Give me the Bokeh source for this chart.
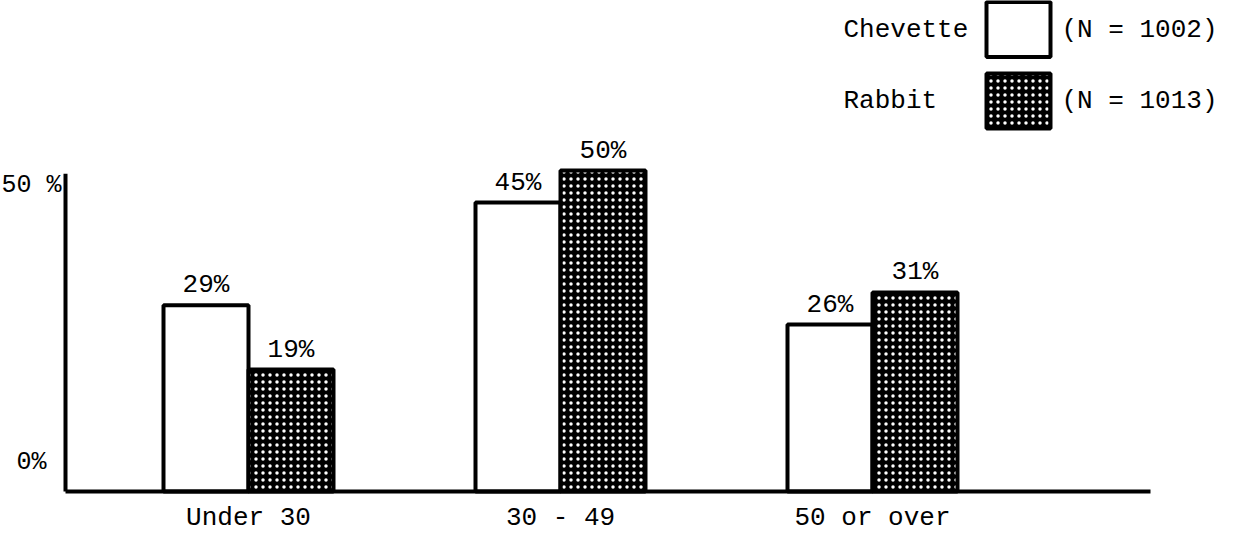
from bokeh.plotting import figure
from bokeh.models import Range1d, ColumnDataSource
from bokeh.core.properties import value
from bokeh.embed import file_html
from bokeh.resources import INLINE

# ---------------- data ----------------
categories = ["Under 30", "30 - 49", "50 or over"]
chevette = [29, 45, 26]
rabbit = [19, 50, 31]
series_names = ["Chevette", "Rabbit"]
series_n = ["(N = 1002)", "(N = 1013)"]
y_ticks = [0, 50]
y_tick_labels = ["0%", "50 %"]

# ---------------- layout / style ----------------
FONT = "Liberation Mono"
FS = "26px"
W, H = 1220, 534
BASE_PX = 491.0          # canvas y of the 0% baseline
PX_PER_GROUP = 312.0
PX_PER_PCT = 6.42
FIRST_CENTER_PX = 248.0  # canvas x of first group centre
BAR_PX = 85.0

x_start = 1 - FIRST_CENTER_PX / PX_PER_GROUP
x_end = x_start + W / PX_PER_GROUP
y_start = -(H - BASE_PX) / PX_PER_PCT
y_end = BASE_PX / PX_PER_PCT


def px_x(cx):
    return x_start + cx / PX_PER_GROUP


def px_y(cy):
    return (BASE_PX - cy) / PX_PER_PCT


bw = BAR_PX / PX_PER_GROUP
xs = [i + 1 for i in range(len(categories))]

src = ColumnDataSource(dict(
    x=xs,
    x_c=[x - bw / 2 for x in xs],
    x_r=[x + bw / 2 for x in xs],
    chev=chevette,
    rab=rabbit,
    chev_lbl=[f"{v}%" for v in chevette],
    rab_lbl=[f"{v}%" for v in rabbit],
    cat=categories,
    zero=[0] * len(categories),
))

p = figure(width=W, height=H, x_range=Range1d(x_start, x_end), y_range=Range1d(y_start, y_end),
           output_backend="svg", toolbar_location=None,
           x_axis_location=None, y_axis_location=None,
           min_border=0, outline_line_color=None,
           background_fill_color="white", border_fill_color="white")
p.grid.visible = False

rab_style = dict(fill_color="black", line_color="black", line_width=4,
                 hatch_pattern="dot", hatch_color="white", hatch_scale=7, hatch_weight=2)
chev_style = dict(fill_color="white", line_color="black", line_width=4)

p.vbar(x="x_c", top="chev", width=bw, bottom=0, source=src, **chev_style)
p.vbar(x="x_r", top="rab", width=bw, bottom=0, source=src, **rab_style)

txt = dict(text_font=value(FONT), text_font_size=FS, text_color="black")
lbl_kw = dict(text_align="center", text_baseline="bottom", y_offset=-5, **txt)
p.text(x="x_c", y="chev", text="chev_lbl", source=src, **lbl_kw)
p.text(x="x_r", y="rab", text="rab_lbl", source=src, **lbl_kw)

# category labels below baseline
p.text(x="x", y="zero", text="cat", source=src, text_align="center",
       text_baseline="middle", y_offset=26, **txt)

# axis lines
ax_x = px_x(65)
p.segment(x0=[ax_x, ax_x], y0=[0, 0], x1=[ax_x, px_x(1150)], y1=[49.5, 0],
          line_color="black", line_width=4)

# y tick labels
ysrc = ColumnDataSource(dict(x=[px_x(31)] * len(y_ticks), y=y_ticks, t=y_tick_labels,
                             off=[-29, 15]))
p.text(x="x", y="y", text="t", y_offset="off", source=ysrc, text_align="center",
       text_baseline="middle", text_font=value(FONT), text_font_size="25px",
       text_color="black")

# legend (drawn manually: name, swatch, N)
row_cy = [px_y(29), px_y(100.5)]
sw_x = px_x(1018)
p.rect(x=[sw_x], y=[row_cy[0]], width=64, height=55, width_units="screen",
       height_units="screen", **chev_style)
p.rect(x=[sw_x], y=[row_cy[1]], width=64, height=55, width_units="screen",
       height_units="screen", **rab_style)
p.text(x=[px_x(843)] * 2, y=row_cy, text=series_names, text_align="left",
       text_baseline="middle", **txt)
p.text(x=[px_x(1061)] * 2, y=row_cy, text=series_n, text_align="left",
       text_baseline="middle", **txt)

open("out.html", "w").write(file_html(p, INLINE))
